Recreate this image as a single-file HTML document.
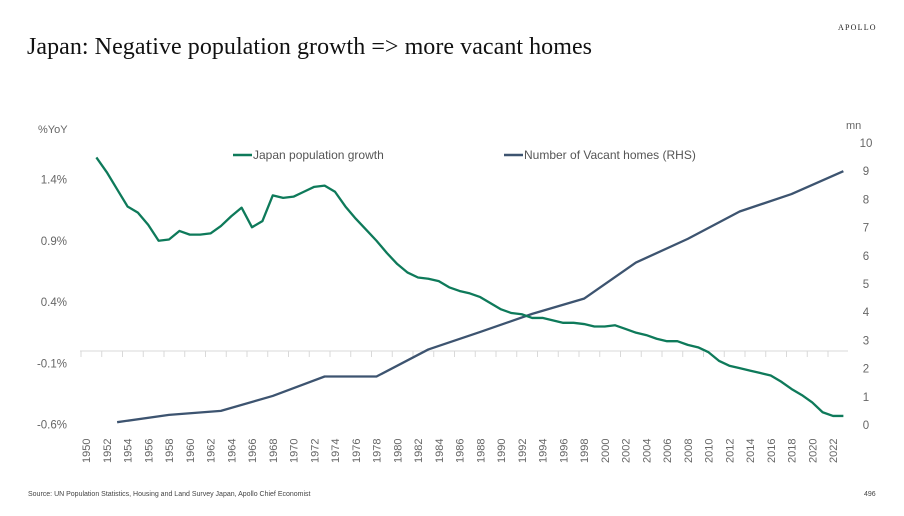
<!DOCTYPE html>
<html><head><meta charset="utf-8"><style>
body{margin:0;background:#fff;}
svg{display:block;font-family:"Liberation Sans",sans-serif;}
</style></head><body>
<svg width="904" height="516" viewBox="0 0 904 516">
<text x="838" y="30" font-family="Liberation Serif,serif" font-size="8" letter-spacing="1.2" fill="#222">APOLLO</text>
<text x="27" y="54" font-family="Liberation Serif,serif" font-size="24" fill="#111" textLength="565">Japan: Negative population growth =&gt; more vacant homes</text>
<text x="38" y="133" font-size="11" fill="#666">%YoY</text>
<text x="846" y="129" font-size="11" fill="#666">mn</text>
<g id="axes"></g>
<g id="series"></g>
<g>
<line x1="233" y1="155" x2="252" y2="155" stroke="#0e7a5a" stroke-width="2.5"/>
<text x="253" y="159" font-size="12" fill="#555">Japan population growth</text>
<line x1="504" y1="155" x2="523" y2="155" stroke="#3d5470" stroke-width="2.5"/>
<text x="524" y="159" font-size="12" fill="#555">Number of Vacant homes (RHS)</text>
</g>
<text x="28" y="496" font-size="7" fill="#444">Source: UN Population Statistics, Housing and Land Survey Japan, Apollo Chief Economist</text>
<text x="864" y="496" font-size="7" fill="#444">496</text>
</svg>
<script>
const popYears=[1951,1952,1953,1954,1955,1956,1957,1958,1959,1960,1961,1962,1963,1964,1965,1966,1967,1968,1969,1970,1971,1972,1973,1974,1975,1976,1977,1978,1979,1980,1981,1982,1983,1984,1985,1986,1987,1988,1989,1990,1991,1992,1993,1994,1995,1996,1997,1998,1999,2000,2001,2002,2003,2004,2005,2006,2007,2008,2009,2010,2011,2012,2013,2014,2015,2016,2017,2018,2019,2020,2021,2022,2023];
const popGrowth=[1.58,1.46,1.32,1.18,1.13,1.03,0.9,0.91,0.98,0.95,0.95,0.96,1.02,1.1,1.17,1.01,1.06,1.27,1.25,1.26,1.3,1.34,1.35,1.3,1.18,1.08,0.99,0.9,0.8,0.71,0.64,0.6,0.59,0.57,0.52,0.49,0.47,0.44,0.39,0.34,0.31,0.3,0.27,0.27,0.25,0.23,0.23,0.22,0.2,0.2,0.21,0.18,0.15,0.13,0.1,0.08,0.08,0.05,0.03,-0.01,-0.08,-0.12,-0.14,-0.16,-0.18,-0.2,-0.25,-0.31,-0.36,-0.42,-0.5,-0.53,-0.53];
const vacYears=[1953,1958,1963,1968,1973,1978,1983,1988,1993,1998,2003,2008,2013,2018,2023];
const vacHomes=[0.1,0.36,0.5,1.03,1.72,1.72,2.68,3.3,3.94,4.48,5.76,6.6,7.57,8.19,9.0];
const leftTicks=[1.4,0.9,0.4,-0.1,-0.6];
const leftTickLabels=["1.4%","0.9%","0.4%","-0.1%","-0.6%"];
const rightTicks=[0,1,2,3,4,5,6,7,8,9,10];
const xTickYears=[1950,1952,1954,1956,1958,1960,1962,1964,1966,1968,1970,1972,1974,1976,1978,1980,1982,1984,1986,1988,1990,1992,1994,1996,1998,2000,2002,2004,2006,2008,2010,2012,2014,2016,2018,2020,2022];

const NS="http://www.w3.org/2000/svg";
const X=yr=>86+(yr-1950)*10.375;
const YL=v=>351-v*122.5;
const YR=v=>425-v*28.2;
const axes=document.getElementById('axes');
const series=document.getElementById('series');
function mk(tag,attrs,parent){const e=document.createElementNS(NS,tag);for(const k in attrs)e.setAttribute(k,attrs[k]);parent.appendChild(e);return e;}

const ax=mk('line',{x1:80,y1:351,x2:848,y2:351,stroke:'#d9d9d9','stroke-width':1},axes);


leftTicks.forEach((v,i)=>{
  const t=mk('text',{x:67,y:YL(v)+4,'text-anchor':'end','font-size':11.5,fill:'#666'},axes);
  t.textContent=leftTickLabels[i];
  
  
});
rightTicks.forEach(v=>{
  const t=mk('text',{x:866,y:YR(v)+4,'text-anchor':'middle','font-size':11.5,fill:'#666'},axes);
  t.textContent=v;
  
  
});
xTickYears.forEach(yr=>{
  const tk=mk('line',{x1:X(yr)-5,y1:351,x2:X(yr)-5,y2:357,stroke:'#d9d9d9'},axes);
  
  
  const t=mk('text',{transform:`translate(${X(yr)+4},463) rotate(-90)`,'font-size':11,fill:'#666'},axes);
  t.textContent=yr;
  
  
});
const vp=mk('polyline',{points:vacYears.map((y,i)=>X(y)+','+YR(vacHomes[i])).join(' '),fill:'none',stroke:'#3d5470','stroke-width':2.3,'stroke-linejoin':'round'},series);


const pp=mk('polyline',{points:popYears.map((y,i)=>X(y)+','+YL(popGrowth[i])).join(' '),fill:'none',stroke:'#0e7a5a','stroke-width':2.3,'stroke-linejoin':'round'},series);


</script>
</body></html>
